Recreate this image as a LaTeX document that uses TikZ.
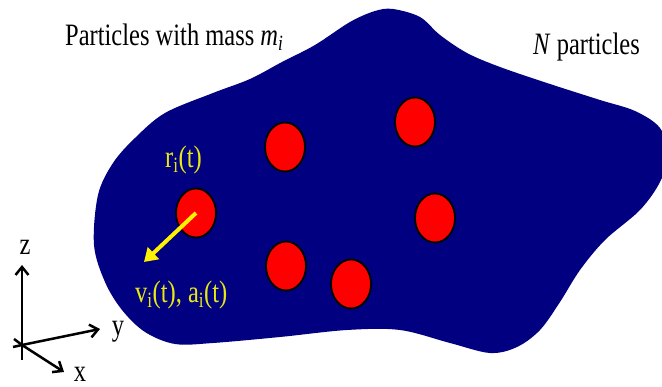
\documentclass[tikz,border=0pt]{standalone}
\usepackage{fontspec}
\setmainfont{Liberation Serif}
\usetikzlibrary{arrows.meta,shapes.geometric}
\definecolor{blobblue}{RGB}{0,0,128}
\definecolor{txtyellow}{RGB}{232,232,20}
\newcommand{\stretchtxt}[1]{\scalebox{1}[1.27]{#1}}
\begin{document}
\begin{tikzpicture}[x=1pt,y=-1pt,
  particle/.style={ellipse,draw=black,line width=1.8pt,fill=red,minimum width=40pt,minimum height=49pt,inner sep=0pt},
  lbl/.style={inner sep=0pt,font=\fontsize{24.5}{28}\selectfont},
  ylbl/.style={lbl,text=txtyellow},
  axisline/.style={line width=2.5pt},
  axis/.style={axisline,-{Straight Barb[length=8pt,width=13pt,line width=2.5pt]}}]
\useasboundingbox (0,0) rectangle (662,387);
\begin{scope}
\clip (0,0) rectangle (662,387);
\fill[blobblue] plot[smooth cycle,tension=0.55] coordinates {
 (393,9) (420,17) (440,35) (467,53) (500,67) (550,84) (600,100) (635,111)
 (660,128) (668,155) (660,182) (640,210) (605,240) (580,270) (560,302)
 (540,330) (517,347) (490,353) (450,343) (400,330) (347,330) (280,337)
 (213,343) (175,344) (145,332) (122,310) (105,282) (94,245) (98,195)
 (113,163) (135,138) (165,113) (213,93) (250,79) (282,62) (315,45) (350,22) (375,11)};
\end{scope}
\node[particle] (p1) at (196,213) {};
\node[particle] (p2) at (285,147) {};
\node[particle] (p3) at (415,122) {};
\node[particle] (p4) at (435,218) {};
\node[particle] (p5) at (286,266) {};
\node[particle] (p6) at (351,284) {};
\coordinate (vend) at (144,262);
\draw[yellow,line width=4pt,-{Triangle[length=13pt,width=16pt]}] (p1.center) -- (vend);
\node[ylbl,anchor=base west] (rlab) at (165,168) {\stretchtxt{r\textsubscript{i}(t)}};
\node[ylbl,anchor=base west] (vlab) at (135,303) {\stretchtxt{v\textsubscript{i}(t), a\textsubscript{i}(t)}};
\node[lbl,anchor=base west] (title) at (65,46) {\stretchtxt{Particles with mass \textit{m}\textsubscript{\textit{i}}}};
\node[lbl,anchor=base west] (npart) at (533,55) {\stretchtxt{\textit{N} particles}};
\coordinate (o) at (22,345);
\coordinate (zt) at (22,265);
\coordinate (yt) at (100,329);
\coordinate (xt) at (64,372);
\draw[axisline] (22,360) -- (o);
\draw[axis] (o) -- (zt);
\draw[axisline] (13,347) -- (o);
\draw[axis] (o) -- (yt);
\draw[axisline] (14,339) -- (o);
\draw[axis] (o) -- (xt);
\node[lbl,anchor=base] (zl) at (25,255) {\stretchtxt{z}};
\node[lbl,anchor=base] (yl) at (118,336) {\stretchtxt{y}};
\node[lbl,anchor=base] (xl) at (80,382) {\stretchtxt{x}};
\end{tikzpicture}
\end{document}
